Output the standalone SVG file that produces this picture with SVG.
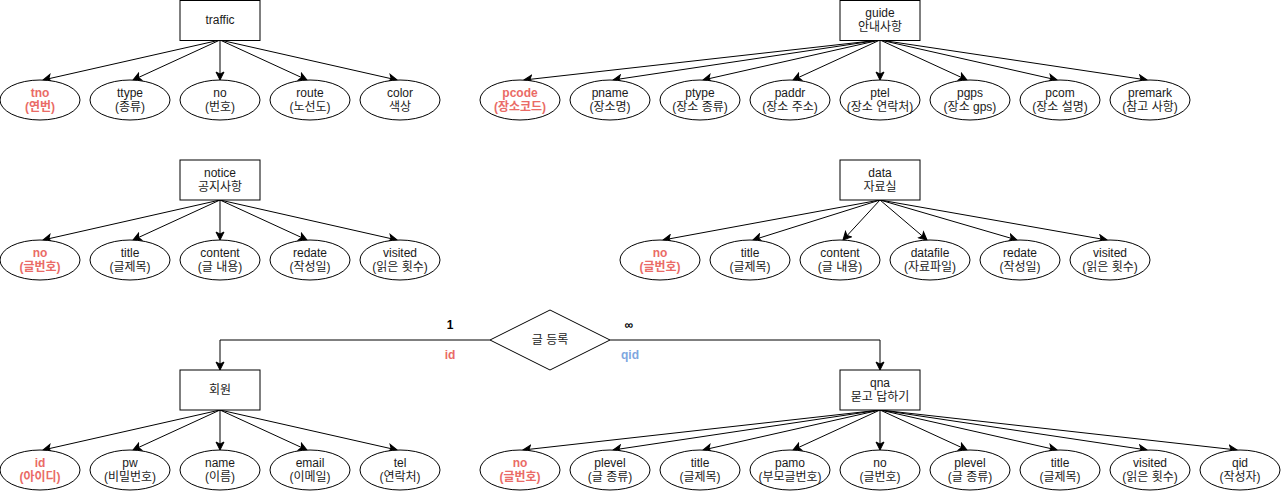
<svg xmlns="http://www.w3.org/2000/svg" width="1281" height="491" viewBox="0 0 1281 491">
<defs>
<marker id="arr" markerUnits="userSpaceOnUse" viewBox="-9 -5 10 10" markerWidth="10" markerHeight="10" refX="0" refY="0" orient="auto">
<path d="M0,0 L-8,-4 L-6,0 L-8,4 Z" fill="#000" stroke="#000" stroke-width="1"/>
</marker>
<style>
.box{fill:#fff;stroke:#000;stroke-width:1}
.ell{fill:#fff;stroke:#000;stroke-width:1}
.t{font-family:"Liberation Sans","Noto Sans CJK KR",sans-serif;font-size:12px;fill:#1a1a1a;text-anchor:middle}
.pk{fill:#EA6B66;font-weight:bold}
.e{fill:none;stroke:#000;stroke-width:1;marker-end:url(#arr)}
.l{fill:none;stroke:#000;stroke-width:1}
.b{font-weight:bold;fill:#000}
.blue{fill:#7EA6E0;font-weight:bold}
</style>
</defs>
<rect width="1281" height="491" fill="#fff"/>

<g id="connectors">
<!-- traffic -->
<line class="e" x1="220" y1="40" x2="43" y2="80"/>
<line class="e" x1="220" y1="40" x2="133" y2="80"/>
<line class="e" x1="220" y1="40" x2="220" y2="80"/>
<line class="e" x1="220" y1="40" x2="307" y2="80"/>
<line class="e" x1="220" y1="40" x2="397" y2="80"/>
<!-- guide -->
<line class="e" x1="880" y1="40" x2="524" y2="80"/>
<line class="e" x1="880" y1="40" x2="613" y2="80"/>
<line class="e" x1="880" y1="40" x2="703" y2="80"/>
<line class="e" x1="880" y1="40" x2="793" y2="80"/>
<line class="e" x1="880" y1="40" x2="880" y2="80"/>
<line class="e" x1="880" y1="40" x2="967" y2="80"/>
<line class="e" x1="880" y1="40" x2="1057" y2="80"/>
<line class="e" x1="880" y1="40" x2="1147" y2="80"/>
<!-- notice -->
<line class="e" x1="220" y1="200" x2="43" y2="240"/>
<line class="e" x1="220" y1="200" x2="133" y2="240"/>
<line class="e" x1="220" y1="200" x2="220" y2="240"/>
<line class="e" x1="220" y1="200" x2="307" y2="240"/>
<line class="e" x1="220" y1="200" x2="397" y2="240"/>
<!-- data -->
<line class="e" x1="880" y1="200" x2="663" y2="240"/>
<line class="e" x1="880" y1="200" x2="753" y2="240"/>
<line class="e" x1="880" y1="200" x2="843" y2="240"/>
<line class="e" x1="880" y1="200" x2="927" y2="240"/>
<line class="e" x1="880" y1="200" x2="1017" y2="240"/>
<line class="e" x1="880" y1="200" x2="1107" y2="240"/>
<!-- member -->
<line class="e" x1="220" y1="410" x2="43" y2="450"/>
<line class="e" x1="220" y1="410" x2="133" y2="450"/>
<line class="e" x1="220" y1="410" x2="220" y2="450"/>
<line class="e" x1="220" y1="410" x2="307" y2="450"/>
<line class="e" x1="220" y1="410" x2="397" y2="450"/>
<!-- qna -->
<line class="e" x1="880" y1="410" x2="523" y2="450"/>
<line class="e" x1="880" y1="410" x2="613" y2="450"/>
<line class="e" x1="880" y1="410" x2="703" y2="450"/>
<line class="e" x1="880" y1="410" x2="793" y2="450"/>
<line class="e" x1="880" y1="410" x2="880" y2="450"/>
<line class="e" x1="880" y1="410" x2="967" y2="450"/>
<line class="e" x1="880" y1="410" x2="1057" y2="450"/>
<line class="e" x1="880" y1="410" x2="1147" y2="450"/>
<line class="e" x1="880" y1="410" x2="1237" y2="450"/>
<!-- relationship -->
<polyline class="e" points="490,340 220,340 220,370"/>
<polyline class="e" points="610,340 880,340 880,370"/>
<text class="t b" x="450" y="329">1</text>
<text class="t pk" x="450" y="359">id</text>
<text class="t b" x="629" y="329">∞</text>
<text class="t blue" x="630" y="359">qid</text>
</g>

<g id="rel">
<polygon class="box" points="550,310 610,340 550,370 490,340"/>
<text class="t" x="550" y="344">글 등록</text>
</g>

<!-- traffic -->
<g id="traffic">
<rect class="box" x="180" y="0.5" width="80" height="40"/>
<text class="t" x="220" y="24">traffic</text>
</g>
<g id="traffic-tno"><ellipse class="ell" cx="40" cy="100" rx="40" ry="20"/><text class="t pk" x="40" y="97">tno<tspan x="40" dy="14">(연번)</tspan></text></g>
<g id="traffic-ttype"><ellipse class="ell" cx="130" cy="100" rx="40" ry="20"/><text class="t" x="130" y="97">ttype<tspan x="130" dy="14">(종류)</tspan></text></g>
<g id="traffic-no"><ellipse class="ell" cx="220" cy="100" rx="40" ry="20"/><text class="t" x="220" y="97">no<tspan x="220" dy="14">(번호)</tspan></text></g>
<g id="traffic-route"><ellipse class="ell" cx="310" cy="100" rx="40" ry="20"/><text class="t" x="310" y="97">route<tspan x="310" dy="14">(노선도)</tspan></text></g>
<g id="traffic-color"><ellipse class="ell" cx="400" cy="100" rx="40" ry="20"/><text class="t" x="400" y="97">color<tspan x="400" dy="14">색상</tspan></text></g>

<!-- guide -->
<g id="guide">
<rect class="box" x="840" y="0.5" width="80" height="40"/>
<text class="t" x="880" y="17">guide<tspan x="880" dy="14">안내사항</tspan></text>
</g>
<g id="guide-pcode"><ellipse class="ell" cx="520" cy="100" rx="40" ry="20"/><text class="t pk" x="520" y="97">pcode<tspan x="520" dy="14">(장소코드)</tspan></text></g>
<g id="guide-pname"><ellipse class="ell" cx="610" cy="100" rx="40" ry="20"/><text class="t" x="610" y="97">pname<tspan x="610" dy="14">(장소명)</tspan></text></g>
<g id="guide-ptype"><ellipse class="ell" cx="700" cy="100" rx="40" ry="20"/><text class="t" x="700" y="97">ptype<tspan x="700" dy="14">(장소 종류)</tspan></text></g>
<g id="guide-paddr"><ellipse class="ell" cx="790" cy="100" rx="40" ry="20"/><text class="t" x="790" y="97">paddr<tspan x="790" dy="14">(장소 주소)</tspan></text></g>
<g id="guide-ptel"><ellipse class="ell" cx="880" cy="100" rx="40" ry="20"/><text class="t" x="880" y="97">ptel<tspan x="880" dy="14">(장소 연락처)</tspan></text></g>
<g id="guide-pgps"><ellipse class="ell" cx="970" cy="100" rx="40" ry="20"/><text class="t" x="970" y="97">pgps<tspan x="970" dy="14">(장소 gps)</tspan></text></g>
<g id="guide-pcom"><ellipse class="ell" cx="1060" cy="100" rx="40" ry="20"/><text class="t" x="1060" y="97">pcom<tspan x="1060" dy="14">(장소 설명)</tspan></text></g>
<g id="guide-premark"><ellipse class="ell" cx="1150" cy="100" rx="40" ry="20"/><text class="t" x="1150" y="97">premark<tspan x="1150" dy="14">(참고 사항)</tspan></text></g>

<!-- notice -->
<g id="notice">
<rect class="box" x="180" y="160" width="80" height="40"/>
<text class="t" x="220" y="177">notice<tspan x="220" dy="14">공지사항</tspan></text>
</g>
<g id="notice-no"><ellipse class="ell" cx="40" cy="260" rx="40" ry="20"/><text class="t pk" x="40" y="257">no<tspan x="40" dy="14">(글번호)</tspan></text></g>
<g id="notice-title"><ellipse class="ell" cx="130" cy="260" rx="40" ry="20"/><text class="t" x="130" y="257">title<tspan x="130" dy="14">(글제목)</tspan></text></g>
<g id="notice-content"><ellipse class="ell" cx="220" cy="260" rx="40" ry="20"/><text class="t" x="220" y="257">content<tspan x="220" dy="14">(글 내용)</tspan></text></g>
<g id="notice-redate"><ellipse class="ell" cx="310" cy="260" rx="40" ry="20"/><text class="t" x="310" y="257">redate<tspan x="310" dy="14">(작성일)</tspan></text></g>
<g id="notice-visited"><ellipse class="ell" cx="400" cy="260" rx="40" ry="20"/><text class="t" x="400" y="257">visited<tspan x="400" dy="14">(읽은 횟수)</tspan></text></g>

<!-- data -->
<g id="data">
<rect class="box" x="840" y="160" width="80" height="40"/>
<text class="t" x="880" y="177">data<tspan x="880" dy="14">자료실</tspan></text>
</g>
<g id="data-no"><ellipse class="ell" cx="660" cy="260" rx="40" ry="20"/><text class="t pk" x="660" y="257">no<tspan x="660" dy="14">(글번호)</tspan></text></g>
<g id="data-title"><ellipse class="ell" cx="750" cy="260" rx="40" ry="20"/><text class="t" x="750" y="257">title<tspan x="750" dy="14">(글제목)</tspan></text></g>
<g id="data-content"><ellipse class="ell" cx="840" cy="260" rx="40" ry="20"/><text class="t" x="840" y="257">content<tspan x="840" dy="14">(글 내용)</tspan></text></g>
<g id="data-datafile"><ellipse class="ell" cx="930" cy="260" rx="40" ry="20"/><text class="t" x="930" y="257">datafile<tspan x="930" dy="14">(자료파일)</tspan></text></g>
<g id="data-redate"><ellipse class="ell" cx="1020" cy="260" rx="40" ry="20"/><text class="t" x="1020" y="257">redate<tspan x="1020" dy="14">(작성일)</tspan></text></g>
<g id="data-visited"><ellipse class="ell" cx="1110" cy="260" rx="40" ry="20"/><text class="t" x="1110" y="257">visited<tspan x="1110" dy="14">(읽은 횟수)</tspan></text></g>

<!-- member -->
<g id="member">
<rect class="box" x="180" y="370" width="80" height="40"/>
<text class="t" x="220" y="394">회원</text>
</g>
<g id="member-id"><ellipse class="ell" cx="40" cy="470" rx="40" ry="20"/><text class="t pk" x="40" y="467">id<tspan x="40" dy="14">(아이디)</tspan></text></g>
<g id="member-pw"><ellipse class="ell" cx="130" cy="470" rx="40" ry="20"/><text class="t" x="130" y="467">pw<tspan x="130" dy="14">(비밀번호)</tspan></text></g>
<g id="member-name"><ellipse class="ell" cx="220" cy="470" rx="40" ry="20"/><text class="t" x="220" y="467">name<tspan x="220" dy="14">(이름)</tspan></text></g>
<g id="member-email"><ellipse class="ell" cx="310" cy="470" rx="40" ry="20"/><text class="t" x="310" y="467">email<tspan x="310" dy="14">(이메일)</tspan></text></g>
<g id="member-tel"><ellipse class="ell" cx="400" cy="470" rx="40" ry="20"/><text class="t" x="400" y="467">tel<tspan x="400" dy="14">(연락처)</tspan></text></g>

<!-- qna -->
<g id="qna">
<rect class="box" x="840" y="370" width="80" height="40"/>
<text class="t" x="880" y="387">qna<tspan x="880" dy="14">묻고 답하기</tspan></text>
</g>
<g id="qna-no"><ellipse class="ell" cx="520" cy="470" rx="40" ry="20"/><text class="t pk" x="520" y="467">no<tspan x="520" dy="14">(글번호)</tspan></text></g>
<g id="qna-plevel"><ellipse class="ell" cx="610" cy="470" rx="40" ry="20"/><text class="t" x="610" y="467">plevel<tspan x="610" dy="14">(글 종류)</tspan></text></g>
<g id="qna-title"><ellipse class="ell" cx="700" cy="470" rx="40" ry="20"/><text class="t" x="700" y="467">title<tspan x="700" dy="14">(글제목)</tspan></text></g>
<g id="qna-pamo"><ellipse class="ell" cx="790" cy="470" rx="40" ry="20"/><text class="t" x="790" y="467">pamo<tspan x="790" dy="14">(부모글번호)</tspan></text></g>
<g id="qna-no2"><ellipse class="ell" cx="880" cy="470" rx="40" ry="20"/><text class="t" x="880" y="467">no<tspan x="880" dy="14">(글번호)</tspan></text></g>
<g id="qna-plevel2"><ellipse class="ell" cx="970" cy="470" rx="40" ry="20"/><text class="t" x="970" y="467">plevel<tspan x="970" dy="14">(글 종류)</tspan></text></g>
<g id="qna-title2"><ellipse class="ell" cx="1060" cy="470" rx="40" ry="20"/><text class="t" x="1060" y="467">title<tspan x="1060" dy="14">(글제목)</tspan></text></g>
<g id="qna-visited"><ellipse class="ell" cx="1150" cy="470" rx="40" ry="20"/><text class="t" x="1150" y="467">visited<tspan x="1150" dy="14">(읽은 횟수)</tspan></text></g>
<g id="qna-qid"><ellipse class="ell" cx="1240" cy="470" rx="40" ry="20"/><text class="t" x="1240" y="467">qid<tspan x="1240" dy="14">(작성자)</tspan></text></g>
</svg>
